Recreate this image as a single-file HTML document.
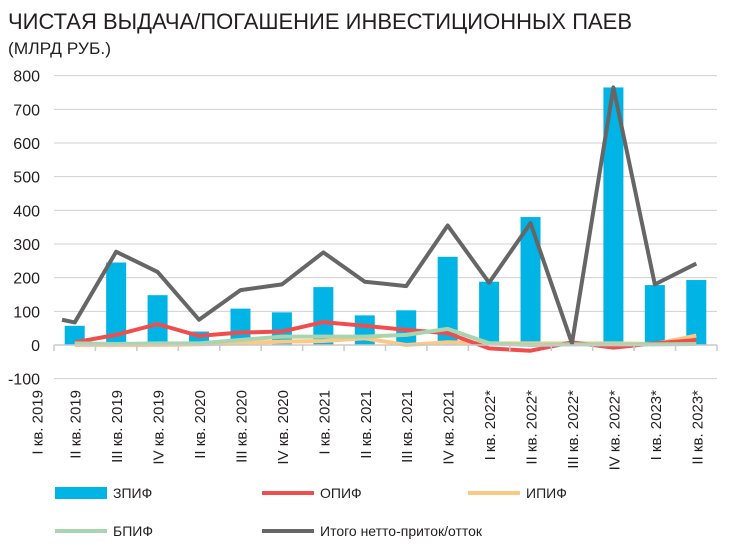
<!DOCTYPE html>
<html><head><meta charset="utf-8">
<style>
body{margin:0;background:#fff;}
svg{display:block;font-family:"Liberation Sans",sans-serif;}
</style></head>
<body>
<svg id="chart" width="730" height="553" viewBox="0 0 730 553">
<text x="8" y="29" font-size="22" fill="#231f20" textLength="624" lengthAdjust="spacingAndGlyphs">ЧИСТАЯ ВЫДАЧА/ПОГАШЕНИЕ ИНВЕСТИЦИОННЫХ ПАЕВ</text>
<text x="8" y="54" font-size="17" fill="#231f20" textLength="103" lengthAdjust="spacingAndGlyphs">(МЛРД РУБ.)</text>
<g id="grid"></g><g id="bars"></g><g id="lines"></g><g id="axes"></g><g id="legend"></g>
</svg>
<script>
const categories=["II кв. 2019","III кв. 2019","IV кв. 2019","II кв. 2020","III кв. 2020","IV кв. 2020","I кв. 2021","II кв. 2021","III кв. 2021","IV кв. 2021","I кв. 2022*","II кв. 2022*","III кв. 2022*","IV кв. 2022*","I кв. 2023*","II кв. 2023*"];
const firstLabel="I кв. 2019";
const zpif=[57,245,148,40,108,97,172,88,103,262,188,380,0,765,178,193];
const opif=[8,30,62,27,37,40,68,57,45,35,-10,-17,8,-8,5,15];
const ipif=[0,0,0,2,5,10,12,20,0,8,5,5,5,5,3,28];
const bpif=[5,3,5,5,15,25,25,25,30,48,5,0,2,2,2,3];
const total=[67,277,217,75,163,180,275,188,175,355,185,362,5,765,180,242];
const totalStart=75;
const yTicks=[-100,0,100,200,300,400,500,600,700,800];

const NS="http://www.w3.org/2000/svg";
const L=54,R=717,Y0=345,PX=303/900;
const step=(R-L)/categories.length;
const x=i=>L+step*(i+0.5);
const y=v=>Y0-v*PX;
function mk(tag,attrs,parent){const e=document.createElementNS(NS,tag);for(const k in attrs)e.setAttribute(k,attrs[k]);parent.appendChild(e);return e;}
const grid=document.getElementById('grid'),bars=document.getElementById('bars'),lines=document.getElementById('lines'),axes=document.getElementById('axes'),legend=document.getElementById('legend');

yTicks.forEach(t=>{
  if(t!==0){const g=mk('line',{x1:L,x2:R,y1:y(t),y2:y(t),stroke:'#d0d0d0','stroke-width':1},grid);
  
  }
  const tx=mk('text',{x:40,y:y(t)+6,'text-anchor':'end','font-size':16,fill:'#231f20'},axes);
  tx.textContent=t;
  
  
});
const ax=mk('line',{x1:L,x2:R,y1:Y0,y2:Y0,stroke:'#c8c8c8','stroke-width':1.5},axes);


for(let i=0;i<=categories.length;i++){
  const tk=mk('line',{x1:L+step*i,x2:L+step*i,y1:Y0,y2:Y0+6,stroke:'#c8c8c8','stroke-width':1.5},axes);
  
  
}
function xlabel(txt,cx){
  const t=mk('text',{x:0,y:0,transform:`translate(${cx+6},390) rotate(-90)`,'text-anchor':'end','font-size':15,fill:'#231f20'},axes);
  t.textContent=txt;
  
  
}
xlabel(firstLabel,x(0)-38);
categories.forEach((c,i)=>xlabel(c,x(i)));

zpif.forEach((v,i)=>{
  const b=mk('rect',{x:x(i)-10,width:20,y:Math.min(y(v),Y0),height:Math.abs(y(v)-Y0),fill:'#00b4e6'},bars);
  
  
});
function line(vals,color,w,name,start){
  let pts=vals.map((v,i)=>x(i)+','+y(v));
  if(start!==undefined)pts.unshift((L+8)+','+y(start));
  const p=mk('polyline',{points:pts.join(' '),fill:'none',stroke:color,'stroke-width':w,'stroke-linejoin':'round'},lines);
  
  
}
line(ipif,'#fdc882',4,'line-ipif');
line(opif,'#f04e4e',4,'line-opif');
line(bpif,'#a8d5b0',4,'line-bpif');
line(total,'#666666',4,'line-total',totalStart);

const leg=[['bar','#00b4e6','ЗПИФ',55,493,'legend-zpif'],['line','#f04e4e','ОПИФ',262,493,'legend-opif'],['line','#fdc882','ИПИФ',468,493,'legend-ipif'],['line','#a8d5b0','БПИФ',55,531,'legend-bpif'],['line','#666666','Итого нетто-приток/отток',262,531,'legend-total']];
leg.forEach(([k,c,t,lx,ly,n])=>{
  const g=mk('g',{},legend);
  
  
  if(k==='bar')mk('rect',{x:lx,y:ly-6,width:52,height:12,fill:c},g);
  else mk('line',{x1:lx,x2:lx+52,y1:ly,y2:ly,stroke:c,'stroke-width':4},g);
  const tx=mk('text',{x:lx+(k==='bar'?58:58),y:ly+5,'font-size':14,fill:'#231f20'},g);
  tx.textContent=t;
});
</script>
</body></html>
